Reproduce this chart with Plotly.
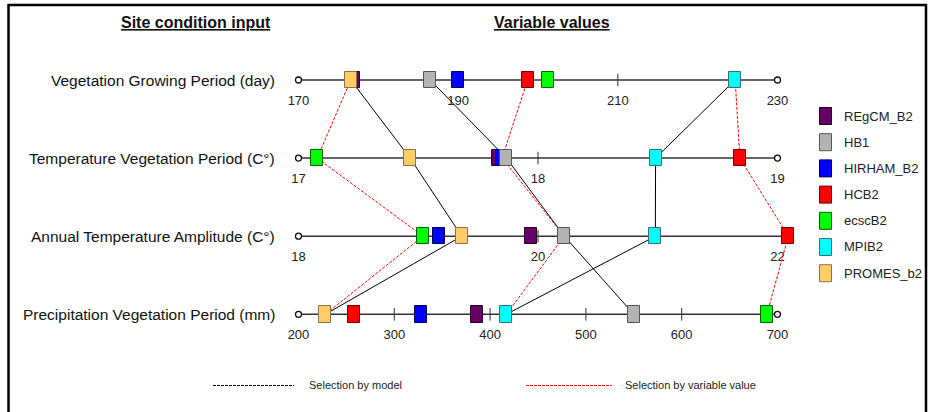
import plotly.graph_objects as go

# ---------------- data ----------------
models = ["REgCM_B2", "HB1", "HIRHAM_B2", "HCB2", "ecscB2", "MPIB2", "PROMES_b2"]
model_colors = ["#660066", "#b3b3b3", "#0000ff", "#ff0000", "#00ff00", "#00ffff", "#ffcc66"]
edge_colors = ["#2a002a", "#555555", "#00005a", "#700000", "#006000", "#3a7070", "#8a7050"]

variables = ["Vegetation Growing Period (day)",
             "Temperature Vegetation Period (C°)",
             "Annual Temperature Amplitude (C°)",
             "Precipitation Vegetation Period (mm)"]
axis_min = [170, 17, 18, 200]
axis_max = [230, 19, 22, 700]
tick_values = [[170, 190, 210, 230], [17, 18, 19], [18, 20, 22], [200, 300, 400, 500, 600, 700]]

# one value per variable (same order as `variables`)
regcm_b2 = [176.9, 17.834, 19.94, 386]
hb1 = [186.5, 17.868, 20.22, 550]
hirham_b2 = [190.0, 17.850, 19.175, 328]
hcb2 = [198.7, 18.843, 22.09, 258]
ecscb2 = [201.3, 17.078, 19.04, 689]
mpib2 = [224.7, 18.491, 20.98, 417]
promes_b2 = [176.55, 17.466, 19.363, 228]

values = {"REgCM_B2": regcm_b2, "HB1": hb1, "HIRHAM_B2": hirham_b2, "HCB2": hcb2,
          "ecscB2": ecscb2, "MPIB2": mpib2, "PROMES_b2": promes_b2}

# "Selection by model" paths (black) and "Selection by variable value" paths (red)
model_paths = ["PROMES_b2", "HB1", "MPIB2"]
value_paths = [["PROMES_b2", "ecscB2", "ecscB2", "PROMES_b2"],
               ["HCB2", "HIRHAM_B2", "HB1", "MPIB2"],
               ["MPIB2", "HCB2", "HCB2", "ecscB2"]]

draw_order = ["REgCM_B2", "HIRHAM_B2", "HB1", "HCB2", "ecscB2", "MPIB2", "PROMES_b2"]

# ---------------- geometry ----------------
W, H = 930, 412
AX0, AX1 = 298.5, 777.5          # pixel extent of each variable axis
ROW0, ROWSTEP = 80.0, 78.1       # pixel y of first row, spacing
FONT = "Liberation Sans, Arial, sans-serif"


def norm(v, i):
    return (v - axis_min[i]) / (axis_max[i] - axis_min[i])


def px(x):
    return x / W


def py(y):
    return 1 - y / H


axw = AX1 - AX0
xr = [(0 - AX0) / axw, (W - AX0) / axw]
yr = [(H - ROW0) / ROWSTEP, (0 - ROW0) / ROWSTEP]
half_h = 8.2 / ROWSTEP
bar_w = 12.0 / axw
rows = list(range(len(variables)))

fig = go.Figure()

# axis lines, end circles, ticks, tick labels
for i in rows:
    vals = [values[m][i] for m in models]
    lo = min(0.0, min(norm(v, i) for v in vals))
    hi = max(1.0, max(norm(v, i) for v in vals))
    fig.add_trace(go.Scatter(x=[lo, hi], y=[i, i], mode="lines",
                             line=dict(color="#333333", width=1.5),
                             hoverinfo="skip", showlegend=False, zorder=0))
    fig.add_trace(go.Scatter(x=[lo, hi], y=[i, i], mode="markers",
                             marker=dict(symbol="circle", size=6, color="white",
                                         line=dict(color="#111111", width=1.3)),
                             hoverinfo="skip", showlegend=False, zorder=0))
    inner = tick_values[i][1:-1]
    fig.add_trace(go.Scatter(x=[norm(t, i) for t in inner], y=[i] * len(inner), mode="markers",
                             marker=dict(symbol="line-ns", size=9,
                                         line=dict(color="#333333", width=1)),
                             hoverinfo="skip", showlegend=False, zorder=0))
    fig.add_trace(go.Scatter(x=[norm(t, i) for t in tick_values[i]],
                             y=[i + 21.5 / ROWSTEP] * len(tick_values[i]),
                             mode="text", text=[str(t) for t in tick_values[i]],
                             textfont=dict(family=FONT, size=13, color="#222222"),
                             hoverinfo="skip", showlegend=False, zorder=0, cliponaxis=False))

# connecting lines
for m in model_paths:
    fig.add_trace(go.Scatter(x=[norm(values[m][i], i) for i in rows], y=rows, mode="lines",
                             line=dict(color="#000000", width=1),
                             hoverinfo="skip", showlegend=False, zorder=1))
for path in value_paths:
    fig.add_trace(go.Scatter(x=[norm(values[path[i]][i], i) for i in rows], y=rows, mode="lines",
                             line=dict(color="#ff0000", width=1, dash="3px,1.5px"),
                             hoverinfo="skip", showlegend=False, zorder=1))

# model markers (rectangles) as bars
for m in draw_order:
    k = models.index(m)
    fig.add_trace(go.Bar(x=[norm(values[m][i], i) for i in rows],
                         y=[2 * half_h] * len(rows),
                         base=[i - half_h for i in rows],
                         width=bar_w, name=m,
                         marker=dict(color=model_colors[k],
                                     line=dict(color=edge_colors[k], width=1)),
                         hoverinfo="skip", showlegend=False, zorder=2))

shapes = []
annotations = []

# frame
shapes.append(dict(type="rect", xref="paper", yref="paper",
                   x0=px(8.5), x1=px(926), y0=py(5), y1=-0.05,
                   line=dict(color="#000000", width=2.5), fillcolor="rgba(0,0,0,0)"))

# headers
for txt, cx in [("Site condition input", 196), ("Variable values", 552)]:
    annotations.append(dict(text="<b>" + txt + "</b>", xref="paper", yref="paper",
                            x=px(cx), y=py(23), xanchor="center", yanchor="middle",
                            showarrow=False,
                            font=dict(family=FONT, size=16, color="#111111", lineposition="under")))

# row labels
for i in rows:
    annotations.append(dict(text=variables[i], xref="paper", yref="y",
                            x=px(277), y=i, xanchor="right", yanchor="middle",
                            showarrow=False, font=dict(family=FONT, size=15.5, color="#111111")))

# right legend
for k, m in enumerate(models):
    cy = 116 + 26.2 * k
    shapes.append(dict(type="rect", xref="paper", yref="paper",
                       x0=px(819.5), x1=px(831.5), y0=py(cy - 8.5), y1=py(cy + 8.5),
                       fillcolor=model_colors[k], line=dict(color=edge_colors[k], width=1)))
    annotations.append(dict(text=m, xref="paper", yref="paper", x=px(842), y=py(cy),
                            xanchor="left", yanchor="middle", showarrow=False,
                            font=dict(family=FONT, size=13, color="#222222")))

# bottom legend
for (x0, x1, tx, col, txt) in [(213, 294, 307, "#000000", "Selection by model"),
                               (526, 612, 623, "#ff0000", "Selection by variable value")]:
    shapes.append(dict(type="line", xref="paper", yref="paper",
                       x0=px(x0), x1=px(x1), y0=py(385.5), y1=py(385.5),
                       line=dict(color=col, width=1, dash="3px,1px")))
    annotations.append(dict(text=txt, xref="paper", yref="paper", x=px(tx), y=py(385),
                            xanchor="left", yanchor="middle", showarrow=False,
                            font=dict(family=FONT, size=11, color="#222222")))

fig.update_layout(
    width=W, height=H, autosize=False,
    margin=dict(l=0, r=0, t=0, b=0, pad=0),
    paper_bgcolor="white", plot_bgcolor="white",
    barmode="overlay", bargap=0,
    xaxis=dict(range=xr, visible=False, fixedrange=True),
    yaxis=dict(range=yr, visible=False, fixedrange=True),
    shapes=shapes, annotations=annotations,
    showlegend=False,
)

fig.write_html("out.html", config={"displayModeBar": False})
